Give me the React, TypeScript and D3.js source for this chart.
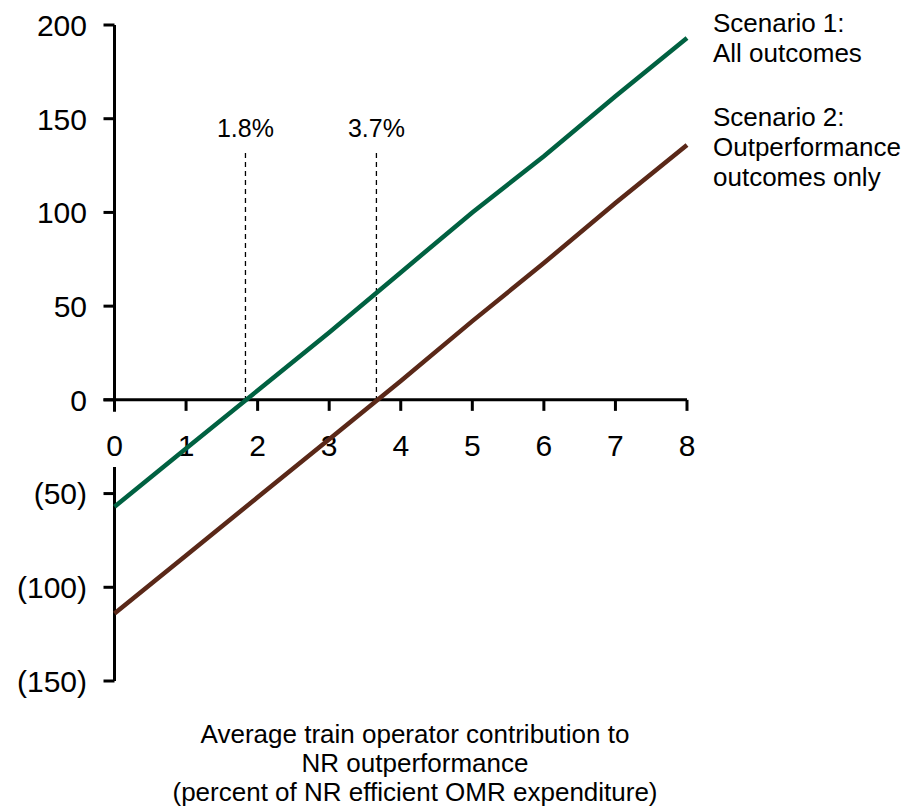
import React from "react";
import * as d3 from "d3";

const xValues = [0, 1, 2, 3, 4, 5, 6, 7, 8];
const scenario1 = [-57, -26, 5, 36, 68, 100, 130, 162, 193];
const scenario2 = [-114, -83, -52, -21, 10, 42, 73, 105, 136];
const yTicks = [200, 150, 100, 50, 0, -50, -100, -150];
const xTicks = [0, 1, 2, 3, 4, 5, 6, 7, 8];
const breakeven = [1.83, 3.66];
const breakevenLabels = ["1.8%", "3.7%"];
const legend1 = ["Scenario 1:", "All outcomes"];
const legend2 = ["Scenario 2:", "Outperformance", "outcomes only"];
const xTitle = [
  "Average train operator contribution to",
  "NR outperformance",
  "(percent of NR efficient OMR expenditure)",
];

const W = 907;
const H = 811;

export default function App() {
  const x = d3.scaleLinear().domain([0, 8]).range([114.5, 687]);
  const y = d3.scaleLinear().domain([-150, 200]).range([681, 25]);
  const line = d3
    .line<number>()
    .x((_, i) => x(xValues[i]))
    .y((d) => y(d));
  const fmt = (v: number) => (v < 0 ? `(${Math.abs(v)})` : `${v}`);
  const font = "Arial, 'Liberation Sans', Helvetica, sans-serif";
  const y0 = y(0);
  return (
    <svg
      width={W}
      height={H}
      style={{ position: "absolute", left: 0, top: 0, background: "#fff" }}
      fontFamily={font}
    >
      {/* y axis (broken where x labels sit) */}
      <line x1={x(0)} x2={x(0)} y1={y(200)} y2={y0 + 12} stroke="#000" strokeWidth={3} />
      <line x1={x(0)} x2={x(0)} y1={467} y2={y(-150)} stroke="#000" strokeWidth={3} />
      {yTicks.map((t) => (
        <g key={t}>
          <line x1={x(0) - 11} x2={x(0)} y1={y(t)} y2={y(t)} stroke="#000" strokeWidth={3} />
          <text
            x={87}
            y={y(t)}
            dy="0.36em"
            textAnchor="end"
            fontSize={30}
            fill="#000"
          >
            {fmt(t)}
          </text>
        </g>
      ))}
      {/* x axis */}
      <line x1={x(0) - 11} x2={x(8)} y1={y0} y2={y0} stroke="#000" strokeWidth={3} />
      {xTicks.map((t) => (
        <g key={t}>
          <line x1={x(t)} x2={x(t)} y1={y0} y2={y0 + 11} stroke="#000" strokeWidth={3} />
          <text x={x(t)} y={456} textAnchor="middle" fontSize={30} fill="#000">
            {t}
          </text>
        </g>
      ))}
      {/* break-even markers */}
      {breakeven.map((b, i) => (
        <g key={i}>
          <line
            x1={x(b)}
            x2={x(b)}
            y1={153}
            y2={y0}
            stroke="#000"
            strokeWidth={1.3}
            strokeDasharray="5,4"
          />
          <text x={x(b)} y={137} textAnchor="middle" fontSize={25} fill="#000">
            {breakevenLabels[i]}
          </text>
        </g>
      ))}
      {/* lines */}
      <path d={line(scenario1) || ""} fill="none" stroke="#006141" strokeWidth={4.5} />
      <path d={line(scenario2) || ""} fill="none" stroke="#5a2818" strokeWidth={4.5} />
      {/* legend */}
      {legend1.map((t, i) => (
        <text key={t} x={713} y={32 + i * 30} fontSize={26} fill="#000">
          {t}
        </text>
      ))}
      {legend2.map((t, i) => (
        <text key={t} x={713} y={126 + i * 30} fontSize={26} fill="#000">
          {t}
        </text>
      ))}
      {/* x title */}
      {xTitle.map((t, i) => (
        <text key={t} x={415} y={743 + i * 29} textAnchor="middle" fontSize={26} fill="#000">
          {t}
        </text>
      ))}
    </svg>
  );
}
